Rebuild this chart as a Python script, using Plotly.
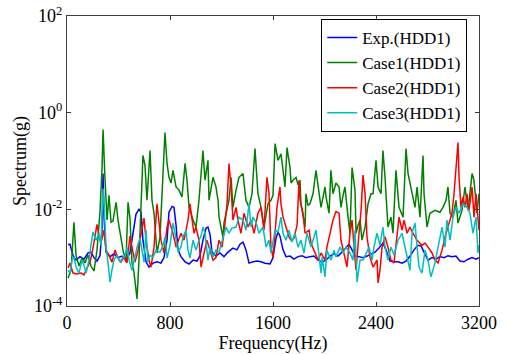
import plotly.graph_objects as go

# Exp.(HDD1)
exp_freq = [8, 23, 47, 70, 101, 132, 163, 186, 210, 233, 256, 272, 280, 287, 303, 334, 365, 396, 427, 458,
            489, 513, 536, 559, 575, 590, 614, 637, 668, 699, 730, 753, 777, 792, 816, 831, 847, 862, 885, 917,
            948, 979, 1010, 1033, 1056, 1080, 1095, 1111, 1126, 1157, 1188, 1219, 1250, 1289, 1320, 1344, 1367,
            1390, 1414, 1445, 1476, 1507, 1538, 1577, 1600, 1623, 1639, 1654, 1678, 1701, 1732, 1763, 1794,
            1825, 1856, 1887, 1918, 1950, 1981, 2012, 2043, 2074, 2105, 2136, 2167, 2190, 2214, 2237, 2268,
            2299, 2330, 2361, 2392, 2423, 2454, 2478, 2509, 2540, 2571, 2602, 2633, 2664, 2695, 2726, 2750,
            2773, 2804, 2835, 2866, 2897, 2928, 2959, 2990, 3021, 3052, 3083, 3115, 3146, 3177, 3200]
exp_vals = [1.85e-3, 1.9e-3, 1.1e-3, 8.9e-4, 1.05e-3, 9.3e-4, 1.25e-3, 1.3e-3, 1.0e-3, 8.5e-4, 1.1e-3,
            3.7e-3, 5.5e-2, 7.5e-3, 1.3e-3, 1.05e-3, 1.2e-3, 1.0e-3, 1.08e-3, 8.9e-4, 1.25e-3, 3.0e-3, 8e-3,
            1.0e-2, 8.7e-3, 2.3e-3, 8.2e-4, 6.4e-4, 7.7e-4, 8.2e-4, 7.7e-4, 1.0e-3, 2.3e-3, 8.7e-3, 1.15e-2,
            1.1e-2, 4.7e-3, 1.45e-3, 1.05e-3, 8.2e-4, 7.4e-4, 8.9e-4, 8.5e-4, 1.1e-3, 2.3e-3, 4.1e-3, 4.3e-3,
            3.0e-3, 1.3e-3, 1.08e-3, 1.25e-3, 1.05e-3, 1.3e-3, 1.58e-3, 1.45e-3, 1.9e-3, 2.1e-3, 1.45e-3,
            7.7e-4, 8.2e-4, 8.5e-4, 8.2e-4, 7.7e-4, 7.4e-4, 1.0e-3, 2.5e-3, 3.4e-3, 2.8e-3, 1.45e-3, 1.05e-3,
            1.08e-3, 9.3e-4, 1.05e-3, 1.1e-3, 1.0e-3, 1.05e-3, 1.08e-3, 8.9e-4, 8.2e-4, 8.9e-4, 1.08e-3,
            1.2e-3, 1.08e-3, 1.3e-3, 1.65e-3, 1.9e-3, 1.45e-3, 1.08e-3, 1.05e-3, 1.0e-3, 1.08e-3, 1.2e-3,
            1.3e-3, 1.58e-3, 2.0e-3, 1.45e-3, 8.5e-4, 8.2e-4, 8.2e-4, 7.7e-4, 8.5e-4, 1.08e-3, 1.45e-3,
            1.8e-3, 1.75e-3, 1.3e-3, 8.9e-4, 1.0e-3, 9.3e-4, 1.05e-3, 1.0e-3, 1.1e-3, 1.05e-3, 1.08e-3,
            8.5e-4, 8.2e-4, 9.3e-4, 1.0e-3, 9.3e-4, 1.0e-3]

# Case1(HDD1)
case1_freq = [8, 31, 54, 70, 93, 117, 140, 163, 186, 210, 233, 256, 272, 280, 295, 311, 326, 342, 357, 381,
              396, 419, 435, 458, 474, 489, 505, 520, 536, 544, 559, 575, 590, 606, 621, 645, 660, 676, 699,
              722, 746, 761, 777, 792, 808, 823, 847, 870, 893, 917, 932, 948, 979, 1002, 1025, 1056, 1072,
              1095, 1103, 1134, 1157, 1173, 1181, 1212, 1219, 1235, 1258, 1274, 1289, 1313, 1336, 1367, 1390,
              1414, 1437, 1460, 1483, 1507, 1530, 1561, 1584, 1600, 1616, 1639, 1662, 1678, 1693, 1709, 1732,
              1740, 1755, 1779, 1794, 1810, 1817, 1833, 1849, 1856, 1872, 1887, 1911, 1934, 1957, 1973, 2004,
              2012, 2035, 2050, 2066, 2089, 2113, 2128, 2144, 2159, 2183, 2198, 2214, 2237, 2245, 2260, 2276,
              2291, 2315, 2338, 2361, 2377, 2400, 2416, 2439, 2454, 2470, 2493, 2516, 2532, 2555, 2579, 2610,
              2633, 2649, 2680, 2703, 2719, 2742, 2765, 2773, 2796, 2819, 2858, 2897, 2920, 2944, 2959, 2975,
              2998, 3021, 3037, 3068, 3091, 3115, 3146, 3161, 3184, 3200]
case1_vals = [3.8e-4, 5.5e-4, 5.4e-3, 1.13e-3, 6.7e-4, 9.8e-4, 7.8e-4, 1.13e-3, 6.7e-4, 5.3e-4, 1.43e-3,
              8.7e-3, 7.0e-2, 0.45, 4.4e-2, 6.0e-3, 1.95e-2, 5.4e-3, 5.7e-3, 1.4e-2, 6.0e-3, 2.6e-3, 1.43e-3,
              8.1e-4, 1.4e-2, 6.6e-3, 7.8e-4, 5.0e-4, 2.1e-4, 1.4e-4, 8.9e-4, 1.54e-2, 0.13, 8.0e-2, 1.54e-2,
              0.165, 1.54e-2, 8.3e-3, 1.25e-3, 2.6e-3, 4.0e-2, 0.39, 8.9e-2, 4.6e-2, 3.5e-2, 6.4e-2, 2.9e-2,
              2.5e-2, 1.8e-2, 8.9e-2, 4.0e-2, 1.1e-2, 6.0e-3, 4.3e-3, 1.54e-2, 0.165, 4.0e-2, 0.103, 1.54e-2,
              4.6e-2, 2.9e-2, 1.54e-2, 6.9e-3, 2.6e-3, 5.2e-3, 8.3e-3, 1.54e-2, 4.6e-2, 1.1e-2, 2.5e-2, 4.6e-2,
              5.5e-2, 1.54e-2, 1.1e-2, 2.1e-2, 0.18, 2.1e-2, 1.1e-2, 4.3e-3, 1.3e-2, 1.54e-2, 1.95e-2, 0.23,
              0.103, 0.14, 6.4e-2, 2.9e-2, 0.19, 7.3e-2, 3.5e-2, 4.0e-2, 4.6e-2, 3.2e-2, 4.0e-2, 1.3e-2, 7.5e-3,
              4.3e-3, 2.1e-2, 1.2e-2, 1.3e-2, 2.1e-2, 6.4e-2, 2.5e-2, 1.1e-2, 2.9e-2, 1.8e-2, 8.3e-3, 6.4e-2,
              2.1e-2, 3.5e-2, 2.9e-2, 1.1e-2, 1.95e-2, 2.9e-2, 6.9e-3, 3.2e-3, 7.3e-2, 2.5e-2, 3.2e-3, 4.7e-3,
              6.0e-3, 2.3e-3, 4.3e-3, 1.3e-2, 2.1e-2, 2.1e-2, 0.103, 2.9e-2, 2.1e-2, 0.165, 4.6e-2, 4.3e-3,
              6.9e-3, 3.2e-3, 6.4e-2, 1.1e-2, 6.9e-3, 0.18, 5.5e-2, 2.1e-2, 1.1e-2, 2.9e-2, 6.9e-3, 0.13,
              2.1e-2, 4.3e-3, 8.3e-3, 9.5e-3, 8.7e-3, 1.1e-2, 1.54e-2, 2.9e-2, 8.3e-3, 6.9e-3, 1.54e-2, 5.2e-3,
              9.5e-3, 2.9e-2, 9.5e-3, 5.5e-2, 4.0e-2, 8.3e-3, 2.1e-2]

# Case2(HDD1)
case2_freq = [8, 23, 47, 78, 109, 132, 155, 179, 202, 233, 249, 264, 287, 303, 326, 349, 373, 396, 419, 443,
              466, 489, 505, 528, 552, 575, 598, 614, 637, 652, 676, 699, 715, 730, 753, 777, 792, 823, 847,
              870, 885, 909, 940, 955, 971, 986, 1002, 1025, 1041, 1064, 1087, 1103, 1134, 1157, 1181, 1204,
              1219, 1243, 1258, 1274, 1289, 1313, 1328, 1351, 1375, 1406, 1429, 1453, 1483, 1507, 1530, 1553,
              1569, 1584, 1600, 1616, 1631, 1654, 1662, 1678, 1701, 1724, 1740, 1763, 1787, 1802, 1810, 1833,
              1849, 1880, 1895, 1926, 1950, 1973, 2004, 2019, 2043, 2066, 2089, 2113, 2128, 2159, 2175, 2198,
              2214, 2229, 2245, 2268, 2284, 2299, 2315, 2330, 2353, 2377, 2408, 2416, 2431, 2447, 2470, 2493,
              2516, 2540, 2563, 2579, 2602, 2618, 2641, 2664, 2687, 2719, 2757, 2781, 2804, 2835, 2858, 2882,
              2913, 2936, 2959, 2990, 3006, 3021, 3037, 3045, 3060, 3076, 3091, 3107, 3122, 3146, 3161, 3177,
              3192, 3200]
case2_vals = [6.1e-4, 7.7e-4, 4.8e-4, 4.6e-4, 4.8e-4, 4.4e-4, 6.1e-4, 8.1e-4, 1.58e-3, 4.9e-3, 2.8e-3,
              2.0e-3, 3.7e-3, 1.43e-3, 1.13e-3, 8.1e-4, 1.43e-3, 9.8e-4, 8.1e-4, 1.05e-3, 7.8e-4, 2.8e-3,
              1.65e-3, 8.1e-4, 1.43e-3, 3.4e-3, 6.6e-3, 2.3e-3, 8.9e-4, 6.4e-4, 1.65e-3, 1.3e-2, 6.0e-3,
              2.3e-3, 1.25e-3, 4.3e-3, 6.0e-3, 3.2e-3, 1.65e-3, 2.55e-3, 3.2e-3, 2.3e-3, 6.0e-3, 1.3e-2,
              6.0e-3, 3.2e-3, 4.3e-3, 2.3e-3, 6.4e-4, 1.25e-3, 2.3e-3, 1.65e-3, 8.9e-4, 1.0e-3, 2.3e-3,
              1.65e-3, 3.2e-3, 1.3e-2, 8.9e-2, 2.9e-2, 6.0e-3, 1.1e-2, 6.0e-3, 3.2e-3, 8.3e-3, 4.3e-3, 6.0e-3,
              3.2e-3, 8.3e-3, 1.1e-2, 3.7e-3, 4.6e-2, 2.1e-2, 1.65e-3, 1.0e-3, 3.2e-3, 1.1e-2, 2.9e-2, 1.3e-2,
              6.9e-3, 4.3e-3, 2.7e-3, 2.3e-3, 2.55e-3, 4.7e-3, 4.0e-2, 1.54e-2, 8.3e-3, 3.2e-3, 3.7e-3, 2.0e-3,
              1.3e-3, 8.9e-4, 1.25e-3, 8.9e-4, 1.65e-3, 3.2e-3, 6.0e-3, 9.0e-3, 8.3e-3, 2.3e-3, 8.9e-4, 6.4e-4,
              3.2e-3, 6.0e-3, 1.65e-3, 5.5e-4, 3.2e-3, 9.5e-3, 5.1e-2, 2.1e-2, 2.7e-3, 1.03e-3, 6.4e-4, 8.9e-4,
              3.0e-4, 5.5e-4, 1.65e-3, 2.7e-3, 1.65e-3, 8.9e-4, 7.8e-4, 3.2e-3, 6.9e-3, 3.7e-3, 6.0e-3, 3.2e-3,
              4.3e-3, 3.2e-3, 2.3e-3, 1.8e-3, 2.0e-3, 1.65e-3, 1.25e-3, 8.9e-4, 7.8e-4, 1.43e-3, 2.7e-3, 4.3e-3,
              8.3e-3, 2.1e-2, 7.3e-2, 0.24, 4.6e-2, 1.1e-2, 1.8e-2, 1.1e-2, 2.1e-2, 9.5e-3, 2.9e-2, 6.9e-3,
              2.1e-2, 6.0e-3, 3.7e-3]

# Case3(HDD1)
case3_freq = [8, 23, 39, 54, 70, 93, 117, 132, 148, 171, 186, 202, 225, 249, 264, 280, 287, 303, 318, 334,
              349, 365, 388, 412, 435, 450, 466, 482, 505, 528, 544, 567, 583, 598, 614, 629, 645, 668, 691,
              722, 746, 761, 777, 800, 823, 839, 862, 885, 901, 924, 940, 955, 979, 1002, 1025, 1041, 1056,
              1072, 1095, 1111, 1134, 1157, 1181, 1196, 1212, 1235, 1258, 1281, 1313, 1336, 1367, 1390, 1414,
              1429, 1445, 1468, 1491, 1522, 1546, 1569, 1584, 1600, 1616, 1639, 1662, 1678, 1701, 1724, 1748,
              1771, 1794, 1817, 1841, 1864, 1895, 1911, 1934, 1950, 1973, 1981, 2004, 2019, 2050, 2074, 2089,
              2120, 2144, 2167, 2198, 2221, 2237, 2253, 2276, 2299, 2322, 2346, 2369, 2384, 2408, 2431, 2454,
              2470, 2493, 2516, 2540, 2571, 2602, 2625, 2649, 2664, 2680, 2703, 2719, 2734, 2757, 2781, 2804,
              2827, 2858, 2882, 2913, 2936, 2951, 2975, 2998, 3021, 3045, 3076, 3107, 3130, 3153, 3177, 3192,
              3200]
case3_vals = [5.5e-4, 4.8e-4, 8.9e-4, 1.03e-3, 6.4e-4, 4.8e-4, 8.9e-4, 7.0e-4, 4.8e-4, 8.9e-4, 1.8e-3,
              3.4e-3, 2.3e-3, 3.2e-3, 1.8e-3, 2.7e-2, 1.54e-2, 1.65e-3, 8.1e-4, 3.1e-4, 5.5e-4, 8.9e-4, 1.13e-3,
              8.1e-4, 1.03e-3, 1.03e-3, 1.65e-3, 8.9e-4, 5.5e-4, 1.13e-3, 1.65e-3, 2.55e-3, 1.43e-3, 8.1e-4,
              3.7e-3, 8.1e-4, 1.13e-3, 1.03e-3, 1.43e-3, 1.3e-3, 1.8e-3, 2.7e-3, 9.8e-4, 1.8e-3, 5.2e-3, 3.2e-3,
              1.3e-3, 1.65e-3, 2.7e-3, 3.7e-3, 1.43e-3, 9.8e-4, 2.3e-3, 1.43e-3, 2.3e-3, 2.8e-3, 4.3e-3, 3.2e-3,
              8.9e-4, 1.65e-3, 1.03e-3, 1.43e-3, 1.3e-3, 1.8e-3, 2.3e-3, 4.3e-3, 3.2e-3, 4.1e-3, 4.3e-3, 6.9e-3,
              6.0e-3, 3.7e-3, 1.3e-2, 4.3e-3, 6.9e-3, 5.4e-3, 3.2e-3, 4.3e-3, 1.65e-3, 2.3e-3, 1.25e-3, 2.1e-3,
              3.7e-3, 3.4e-3, 6.9e-3, 3.2e-3, 2.3e-3, 3.7e-3, 2.1e-3, 3.2e-3, 1.65e-3, 2.3e-3, 1.25e-3, 3.2e-3,
              1.65e-3, 2.3e-3, 3.7e-3, 1.65e-3, 4.8e-4, 1.03e-3, 4.0e-4, 1.43e-3, 8.9e-4, 1.43e-3, 1.03e-3,
              1.65e-3, 1.25e-3, 1.65e-3, 1.25e-3, 8.9e-4, 3.7e-3, 3.1e-4, 8.9e-4, 8.9e-4, 1.25e-3, 1.65e-3,
              8.9e-4, 1.65e-3, 3.2e-3, 1.8e-3, 4.3e-3, 1.65e-3, 8.9e-4, 1.65e-3, 1.13e-3, 2.3e-3, 3.2e-3,
              1.65e-3, 8.9e-4, 5.5e-4, 3.2e-3, 5.2e-3, 1.65e-3, 6.4e-4, 4.8e-4, 1.43e-3, 8.9e-4, 4.0e-4, 7.8e-4,
              1.65e-3, 4.3e-3, 1.65e-3, 6.0e-3, 2.3e-3, 6.9e-3, 1.1e-2, 8.3e-3, 1.3e-2, 1.1e-2, 8.3e-3, 3.2e-3,
              6.9e-3, 1.25e-3, 1.8e-3]

series = [
    ("Exp.(HDD1)", exp_freq, exp_vals, "#0000FF"),
    ("Case1(HDD1)", case1_freq, case1_vals, "#008000"),
    ("Case2(HDD1)", case2_freq, case2_vals, "#FF0000"),
    ("Case3(HDD1)", case3_freq, case3_vals, "#00BFBF"),
]

x_ticks = [0, 800, 1600, 2400, 3200]
y_ticks = [1e-4, 1e-2, 1e0, 1e2]
y_tick_text = ["10<sup>-4</sup>", "10<sup>-2</sup>", "10<sup>0</sup>", "10<sup>2</sup>"]

FONT = "Liberation Serif, Times New Roman, serif"
AXIS_COLOR = "#3c3c3c"

fig = go.Figure()
for name, f, v, color in series:
    fig.add_trace(go.Scatter(x=f, y=v, mode="lines", name=name,
                             line=dict(color=color, width=1.5)))

fig.update_layout(
    width=507, height=354,
    margin=dict(l=67, r=28, t=16, b=48, autoexpand=False),
    paper_bgcolor="white", plot_bgcolor="white",
    font=dict(family=FONT, size=18, color="black"),
    showlegend=True,
    legend=dict(x=0.617, y=0.99, xanchor="left", yanchor="top",
                bgcolor="white", bordercolor="black", borderwidth=1,
                font=dict(family=FONT, size=17, color="black"),
                tracegroupgap=0, itemwidth=30),
)
fig.update_xaxes(
    range=[0, 3200], tickvals=x_ticks, ticktext=[str(t) for t in x_ticks],
    ticks="inside", ticklen=4, tickcolor=AXIS_COLOR, automargin=False,
    showline=True, linecolor=AXIS_COLOR, linewidth=1, mirror="ticks",
    showgrid=False, zeroline=False,
    title=dict(text="Frequency(Hz)", font=dict(family=FONT, size=18), standoff=0),
    tickfont=dict(family=FONT, size=18),
)
fig.update_yaxes(
    type="log", range=[-4, 2], tickvals=y_ticks, ticktext=y_tick_text,
    ticks="inside", ticklen=4, tickcolor=AXIS_COLOR, automargin=False,
    showline=True, linecolor=AXIS_COLOR, linewidth=1, mirror="ticks",
    showgrid=False, zeroline=False,
    title=dict(text="Spectrum(g)", font=dict(family=FONT, size=18), standoff=2),
    tickfont=dict(family=FONT, size=18),
)

fig.write_html("out.html")
